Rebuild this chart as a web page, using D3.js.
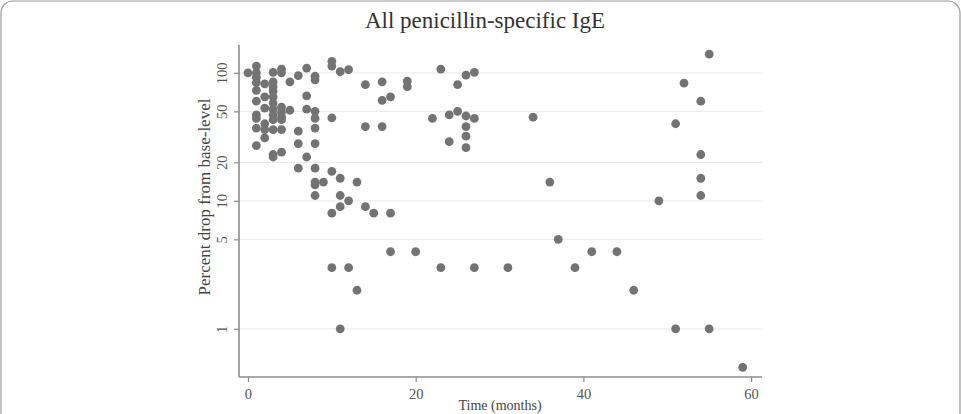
<!DOCTYPE html>
<html>
<head>
<meta charset="utf-8">
<script src="https://cdn.jsdelivr.net/npm/d3@7"></script>
<style>
  html, body { margin: 0; padding: 0; background: #fff; }
  svg { display: block; }
</style>
</head>
<body>
<script>
// ---- Data ----
const chartTitle = "All penicillin-specific IgE";
const xLabel = "Time (months)";
const yLabel = "Percent drop from base-level";
const xTicks = [0, 20, 40, 60];
const yTicks = [1, 5, 10, 20, 50, 100];

const timeMonths = [
  0,
  1,1,1,1,1,1,1,1,1,1,
  2,2,2,2,2,2,
  3,3,3,3,3,3,3,3,3,3,3,3,
  4,4,4,4,4,4,4,4,
  5,5,
  6,6,6,6,
  7,7,7,7,
  8,8,8,8,8,8,8,8,8,8,
  9,
  10,10,10,10,10,10,
  11,11,11,11,11,
  12,12,12,
  13,13,
  14,14,14,
  15,
  16,16,16,
  17,17,17,
  19,19,
  20,
  22,
  23,23,
  24,24,
  25,25,
  26,26,26,26,26,
  27,27,27,
  31, 34, 36, 37, 39, 41, 44, 46, 49,
  51,51,
  52,
  54,54,54,54,
  55,55,
  59
];
const percentDrop = [
  100,
  113,100,92,84,73,60,47,44,37,27,
  82,65,53,40,36,31,
  101,85,78,72,65,58,52,47,43,36,23,22,
  107,100,54,49,45,43,36,24,
  85,51,
  95,35,28,18,
  109,66,52,22,
  94,88,50,44,37,28,18,14,13.3,11,
  14,
  123,113,44.5,17,8,3,
  102,15,11,9,1,
  106,10,3,
  14,2,
  81,38,9,
  8,
  85,61,38,
  65,8,4,
  86,78,
  4,
  44,
  107,3,
  47,29,
  81,50,
  96,46,38,32,26,
  101,44,3,
  3, 45, 14, 5, 3, 4, 4, 2, 10,
  40,1,
  83,
  60,23,15,11,
  140,1,
  0.5
];

// ---- Layout ----
const W = 961, H = 414;
const plot = { left: 239, right: 762, top: 45, bottom: 377 };
const serif = "'Liberation Serif', 'Times New Roman', serif";

const svg = d3.select("body").append("svg")
  .attr("width", W).attr("height", H)
  .style("font-family", serif);

// outer rounded border
svg.append("rect")
  .attr("x", 1).attr("y", 1)
  .attr("width", W - 2).attr("height", H + 20)
  .attr("rx", 12).attr("ry", 12)
  .attr("fill", "none").attr("stroke", "#9a9a9a").attr("stroke-width", 1.2);

const x = d3.scaleLinear().domain([-1.07, 61.3]).range([plot.left, plot.right]);
const y = d3.scaleLog().domain([0.42, 165]).range([plot.bottom, plot.top]);

// gridlines
svg.append("g").selectAll("line").data(yTicks).join("line")
  .attr("x1", plot.left + 1).attr("x2", plot.right)
  .attr("y1", d => y(d)).attr("y2", d => y(d))
  .attr("stroke", "#ececec").attr("stroke-width", 1.2);

// axes
const xAxis = d3.axisBottom(x).tickValues(xTicks).tickSize(5).tickPadding(4).tickFormat(d3.format("d"));
const gx = svg.append("g").attr("transform", `translate(0,${plot.bottom})`).call(xAxis);
gx.select(".domain").attr("d", `M${plot.left},0H${plot.right}`);

const yAxis = d3.axisLeft(y).tickValues(yTicks).tickSize(5).tickPadding(0).tickFormat(d3.format("d"));
const gy = svg.append("g").attr("transform", `translate(${plot.left},0)`).call(yAxis);
gy.select(".domain").attr("d", `M0,${plot.top}V${plot.bottom}`);

[gx, gy].forEach(g => {
  g.select(".domain").attr("stroke", "#8c8c8c").attr("stroke-width", 1.6);
  g.selectAll(".tick line").attr("stroke", "#8c8c8c").attr("stroke-width", 1.2);
  g.selectAll(".tick text")
    .attr("fill", "#555")
    .style("font-family", serif)
    .style("font-size", "14.5px");
});
gx.selectAll(".tick text").attr("dy", "0.9em");
gy.selectAll(".tick text")
  .attr("x", null).attr("dy", null)
  .attr("text-anchor", "middle")
  .attr("transform", "translate(-12,0) rotate(-90)");

// points
svg.append("g").selectAll("circle")
  .data(timeMonths.map((t, i) => ({ t, v: percentDrop[i] })))
  .join("circle")
  .attr("cx", d => x(d.t))
  .attr("cy", d => y(d.v))
  .attr("r", 4.4)
  .attr("fill", "#737373");

// title
svg.append("text")
  .attr("x", 485).attr("y", 28)
  .attr("text-anchor", "middle")
  .attr("fill", "#333")
  .style("font-size", "23px")
  .text(chartTitle);

// axis titles
svg.append("text")
  .attr("x", 500).attr("y", 410)
  .attr("text-anchor", "middle")
  .attr("fill", "#444")
  .style("font-size", "14px")
  .text(xLabel);

svg.append("text")
  .attr("transform", "translate(210,197) rotate(-90)")
  .attr("text-anchor", "middle")
  .attr("fill", "#444")
  .style("font-size", "17px")
  .text(yLabel);
</script>
</body>
</html>
